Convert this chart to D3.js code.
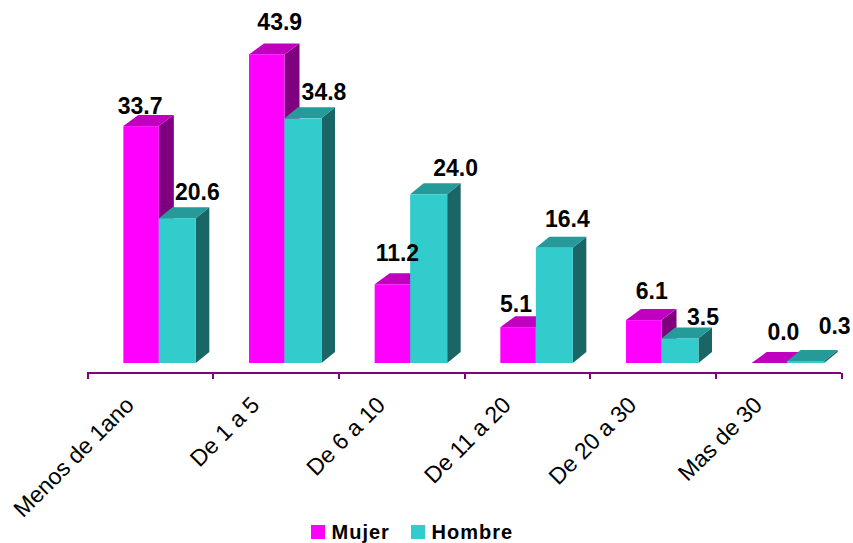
<!DOCTYPE html>
<html>
<head>
<meta charset="utf-8">
<script src="https://cdn.jsdelivr.net/npm/d3@7/dist/d3.min.js"></script>
<style>
  html, body { margin: 0; padding: 0; background: #fff; }
  svg { display: block; }
  text { font-family: "Liberation Sans", Arial, sans-serif; fill: #000; }
</style>
</head>
<body>
<svg id="chart" width="853" height="543"></svg>
<script>
const categories = ["Menos de 1ano", "De 1 a 5", "De 6 a 10", "De 11 a 20", "De 20 a 30", "Mas de 30"];
const mujer = [33.7, 43.9, 11.2, 5.1, 6.1, 0.0];
const hombre = [20.6, 34.8, 24.0, 16.4, 3.5, 0.3];

// Hand-placed value labels: offsets from the top centre of each bar's front face.
const mujerLabelShift = [[-1, -20], [13, -32], [5, -31], [-2, -23], [8, -29], [14, -31]];
const hombreLabelShift = [[20, -26], [21, -26], [27, -26], [13, -29], [23, -21], [29, -35]];

const svg = d3.select("#chart");
const baseY = 363, axisY = 373, axisLeft = 87, axisRight = 841;
const barShift = 9, depthY = 11;

const x = d3.scaleBand().domain(categories).range([axisLeft, axisRight]);
const y = d3.scaleLinear().domain([0, 50]).range([baseY, baseY - 351.5]);
const edges = d3.scaleLinear().domain([0, categories.length]).range([axisLeft, axisRight]);

const seriesList = [
  { name: "Mujer", values: mujer, shift: mujerLabelShift, width: 35.5, offset: -35.5, depthX: 15,
    front: "#FF00FF", top: "#BF00BF", side: "#7F007F" },
  { name: "Hombre", values: hombre, shift: hombreLabelShift, width: 37, offset: 0, depthX: 13.5,
    front: "#33CCCC", top: "#269999", side: "#1A6666" }
];

// Axis line with ticks on the category boundaries.
const axis = svg.append("g").attr("transform", `translate(0,${axisY})`)
  .call(d3.axisBottom(edges).tickValues(d3.range(categories.length + 1)).tickSize(6).tickSizeOuter(0).tickFormat(""));
axis.selectAll("path,line").attr("stroke", "#800080").attr("stroke-width", 2).attr("shape-rendering", "crispEdges");
axis.select("path").attr("d", `M${axisLeft},0H${axisRight}`);

// Rotated category labels.
const labelAxis = svg.append("g").attr("transform", `translate(-26,${axisY + 22})`)
  .call(d3.axisBottom(x).tickSize(0).tickPadding(0));
labelAxis.select("path").remove();
labelAxis.selectAll("text")
  .attr("font-size", 23)
  .attr("dy", "0.7em").attr("y", 0).attr("x", 0)
  .attr("text-anchor", "end")
  .attr("transform", "rotate(-45)");

// Extruded bars: side and top faces first, then the front face.
seriesList.forEach(s => {
  const g = svg.append("g").attr("class", "series");
  const left = (d, i) => x(categories[i]) + x.bandwidth() / 2 + barShift + s.offset;

  g.selectAll("path.side").data(s.values).join("path").attr("class", "side")
    .attr("fill", s.side)
    .attr("d", (d, i) => {
      const r = left(d, i) + s.width, t = y(d);
      return `M${r},${t}L${r + s.depthX},${t - depthY}L${r + s.depthX},${baseY - depthY}L${r},${baseY}Z`;
    });
  g.selectAll("path.top").data(s.values).join("path").attr("class", "top")
    .attr("fill", s.top)
    .attr("d", (d, i) => {
      const l = left(d, i), t = y(d);
      return `M${l},${t}L${l + s.depthX},${t - depthY}L${l + s.width + s.depthX},${t - depthY}L${l + s.width},${t}Z`;
    });
  g.selectAll("rect").data(s.values).join("rect")
    .attr("x", (d, i) => left(d, i))
    .attr("y", d => y(d))
    .attr("width", s.width)
    .attr("height", d => baseY - y(d))
    .attr("fill", s.front);
});

// Value labels are drawn above every bar so none is covered.
seriesList.forEach(s => {
  const left = (d, i) => x(categories[i]) + x.bandwidth() / 2 + barShift + s.offset;
  svg.append("g").selectAll("text").data(s.values).join("text")
    .attr("x", (d, i) => left(d, i) + s.width / 2 + s.shift[i][0])
    .attr("y", (d, i) => y(d) + s.shift[i][1] + 8)
    .attr("text-anchor", "middle")
    .attr("font-size", 23)
    .attr("font-weight", "bold")
    .text(d => d.toFixed(1));
});

// Legend.
const legendPos = [311, 411];
const legend = svg.append("g").selectAll("g").data(seriesList).join("g")
  .attr("transform", (d, i) => `translate(${legendPos[i]},525)`);
legend.append("rect").attr("width", 14).attr("height", 14).attr("fill", d => d.front);
legend.append("text").attr("x", 20.5).attr("y", 13.5)
  .attr("font-size", 20).attr("font-weight", "bold").attr("letter-spacing", 1)
  .text(d => d.name);
</script>
</body>
</html>
